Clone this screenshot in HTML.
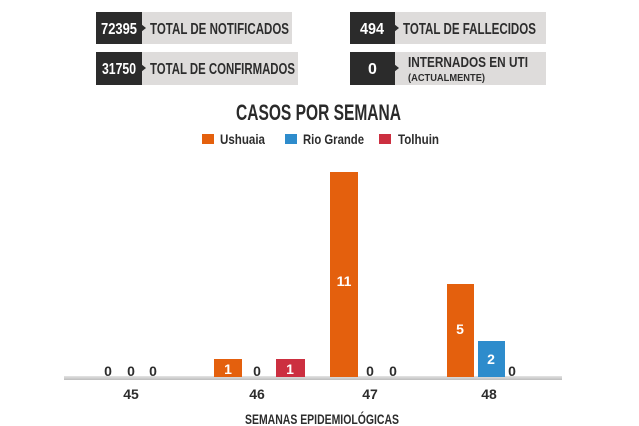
<!DOCTYPE html>
<html><head><meta charset="utf-8"><style>
html,body{margin:0;padding:0;background:#fff;}
svg{display:block;}
text{font-family:"Liberation Sans Narrow","Liberation Sans",sans-serif;font-weight:bold;}
</style></head><body>
<svg width="639" height="426" viewBox="0 0 639 426" xmlns="http://www.w3.org/2000/svg">
<defs><linearGradient id="ax" x1="0" y1="0" x2="0" y2="1"><stop offset="0" stop-color="#e4e4e4"/><stop offset="1" stop-color="#bdbdbd"/></linearGradient></defs>
<rect x="142" y="12" width="150" height="32" fill="#dedcdb"/>
<rect x="96" y="12" width="46" height="32" fill="#2b2b2b"/>
<polygon points="141,24 146,28 141,32" fill="#2b2b2b"/>
<text x="101" y="34" fill="#fff" font-size="16" textLength="36" lengthAdjust="spacingAndGlyphs">72395</text>
<text x="150" y="34" fill="#2d2d2d" font-size="16" textLength="139" lengthAdjust="spacingAndGlyphs">TOTAL DE NOTIFICADOS</text>

<rect x="142" y="52" width="156" height="33" fill="#dedcdb"/>
<rect x="96" y="52" width="46" height="33" fill="#2b2b2b"/>
<polygon points="141,64 146,68 141,72" fill="#2b2b2b"/>
<text x="102" y="74" fill="#fff" font-size="16" textLength="34" lengthAdjust="spacingAndGlyphs">31750</text>
<text x="150" y="74" fill="#2d2d2d" font-size="16" textLength="145" lengthAdjust="spacingAndGlyphs">TOTAL DE CONFIRMADOS</text>

<rect x="395" y="12" width="151" height="32" fill="#dedcdb"/>
<rect x="350" y="12" width="45" height="32" fill="#2b2b2b"/>
<polygon points="394,24 399,28 394,32" fill="#2b2b2b"/>
<text x="360" y="34" fill="#fff" font-size="16" textLength="24" lengthAdjust="spacingAndGlyphs">494</text>
<text x="403" y="34" fill="#2d2d2d" font-size="16" textLength="133" lengthAdjust="spacingAndGlyphs">TOTAL DE FALLECIDOS</text>

<rect x="395" y="52" width="151" height="33" fill="#dedcdb"/>
<rect x="350" y="52" width="45" height="33" fill="#2b2b2b"/>
<polygon points="394,64 399,68 394,72" fill="#2b2b2b"/>
<text x="368" y="74" fill="#fff" font-size="16">0</text>
<text x="408" y="67" fill="#2d2d2d" font-size="15" textLength="120" lengthAdjust="spacingAndGlyphs">INTERNADOS EN UTI</text>
<text x="408" y="81" fill="#2d2d2d" font-size="10" textLength="77" lengthAdjust="spacingAndGlyphs">(ACTUALMENTE)</text>

<text x="236" y="120" fill="#2a2a2a" font-size="22" textLength="165" lengthAdjust="spacingAndGlyphs">CASOS POR SEMANA</text>
<rect x="202" y="134" width="12" height="10" fill="#e4600d"/>
<text x="220" y="144" fill="#2d2d2d" font-size="14" textLength="45" lengthAdjust="spacingAndGlyphs">Ushuaia</text>
<rect x="285" y="134" width="12" height="10" fill="#2e8ccc"/>
<text x="303" y="144" fill="#2d2d2d" font-size="14" textLength="61" lengthAdjust="spacingAndGlyphs">Rio Grande</text>
<rect x="379" y="134" width="12" height="10" fill="#cc2f40"/>
<text x="398" y="144" fill="#2d2d2d" font-size="14" textLength="41" lengthAdjust="spacingAndGlyphs">Tolhuin</text>

<rect x="64" y="376" width="498" height="4" fill="url(#ax)"/>
<rect x="214" y="359" width="28" height="18" fill="#e4600d"/>
<rect x="276" y="359" width="29" height="18" fill="#cc2f40"/>
<rect x="330" y="172" width="28" height="205" fill="#e4600d"/>
<rect x="447" y="284" width="27" height="93" fill="#e4600d"/>
<rect x="478" y="341" width="27" height="36" fill="#2e8ccc"/>
<g font-size="14" text-anchor="middle">
<text x="228" y="374" fill="#fff">1</text>
<text x="290" y="374" fill="#fff">1</text>
<text x="344" y="286" fill="#fff">11</text>
<text x="460" y="334" fill="#fff">5</text>
<text x="491" y="364" fill="#fff">2</text>
<g fill="#2d2d2d">
<text x="108" y="376">0</text><text x="131" y="376">0</text><text x="153" y="376">0</text>
<text x="257" y="376">0</text>
<text x="370" y="376">0</text><text x="393" y="376">0</text>
<text x="512" y="376">0</text>
</g>
<g fill="#2d2d2d">
<text x="131" y="399">45</text><text x="257" y="399">46</text><text x="370" y="399">47</text><text x="489" y="399">48</text>
</g>
</g>
<text x="245" y="424" fill="#2d2d2d" font-size="14" textLength="154" lengthAdjust="spacingAndGlyphs">SEMANAS EPIDEMIOLÓGICAS</text>
</svg>
</body></html>
